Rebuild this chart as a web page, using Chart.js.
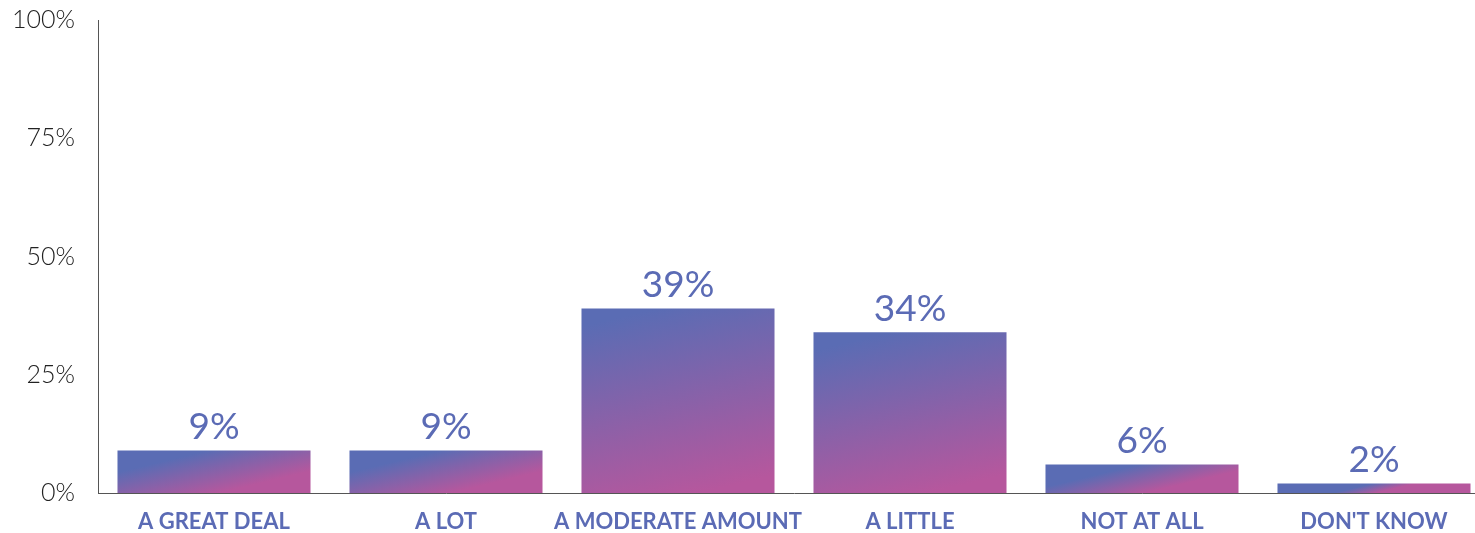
<!DOCTYPE html>
<html>
<head>
<meta charset="utf-8">
<script src="https://cdn.jsdelivr.net/npm/chart.js@4/dist/chart.umd.min.js"></script>
<style>
  html, body { margin: 0; padding: 0; background: #fff; overflow: hidden; }
  #wrap { width: 1495px; height: 551px; position: absolute; left: 0; top: -18px; }
</style>
</head>
<body>
<div id="wrap"><canvas id="chart"></canvas></div>
<script>
const categories = ['A GREAT DEAL', 'A LOT', 'A MODERATE AMOUNT', 'A LITTLE', 'NOT AT ALL', "DON'T KNOW"];
const shares = [9, 9, 39, 34, 6, 2];
const yTicks = [0, 25, 50, 75, 100];

const BLUE = '#5b6bb5';
const TOP_COLOR = '#5a6cb4';
const BOTTOM_COLOR = '#b6579d';

const barGradient = (ctx) => {
  const chart = ctx.chart;
  if (!chart.chartArea || ctx.type !== 'data') return TOP_COLOR;
  const y = chart.scales.y;
  const x = chart.scales.x;
  const top = y.getPixelForValue(shares[ctx.dataIndex]);
  const base = y.getPixelForValue(0);
  const cx = x.getPixelForValue(ctx.dataIndex);
  const dx = (base - top) * 0.12;
  const g = chart.ctx.createLinearGradient(cx - dx, top, cx + dx, base);
  g.addColorStop(0, TOP_COLOR);
  g.addColorStop(1, BOTTOM_COLOR);
  return g;
};

const valueLabels = {
  id: 'valueLabels',
  afterDatasetsDraw(chart) {
    const c = chart.ctx;
    const meta = chart.getDatasetMeta(0);
    c.save();
    c.fillStyle = BLUE;
    c.font = '37px Lato, sans-serif';
    c.textAlign = 'center';
    c.textBaseline = 'bottom';
    meta.data.forEach((bar, i) => {
      c.fillText(shares[i] + '%', bar.x, bar.y - 5);
    });
    c.restore();
  }
};

new Chart(document.getElementById('chart'), {
  type: 'bar',
  data: {
    labels: categories,
    datasets: [{
      data: shares,
      backgroundColor: barGradient,
      borderWidth: 0,
      categoryPercentage: 1,
      barPercentage: 0.832
    }]
  },
  options: {
    responsive: true,
    maintainAspectRatio: false,
    animation: false,
    layout: { padding: { top: -6, right: 5 } },
    plugins: {
      legend: { display: false },
      tooltip: { enabled: false }
    },
    scales: {
      y: {
        min: 0,
        max: 100,
        afterBuildTicks: (axis) => { axis.ticks = yTicks.map(v => ({ value: v })); },
        afterFit: (axis) => { axis.width = 98; },
        grid: { display: false, drawTicks: false },
        border: { display: true, color: '#555', width: 1 },
        ticks: {
          padding: 23,
          color: '#222',
          font: { family: 'Lato, sans-serif', size: 25, weight: '300' },
          callback: (v) => v + '%'
        }
      },
      x: {
        afterFit: (axis) => { axis.height = 40; },
        grid: { display: false, drawTicks: false },
        border: { display: true, color: '#555', width: 1 },
        ticks: {
          padding: 16,
          color: BLUE,
          maxRotation: 0,
          autoSkip: false,
          font: { family: 'Lato, sans-serif', size: 22, weight: 'bold' }
        }
      }
    }
  },
  plugins: [valueLabels]
});
</script>
</body>
</html>
